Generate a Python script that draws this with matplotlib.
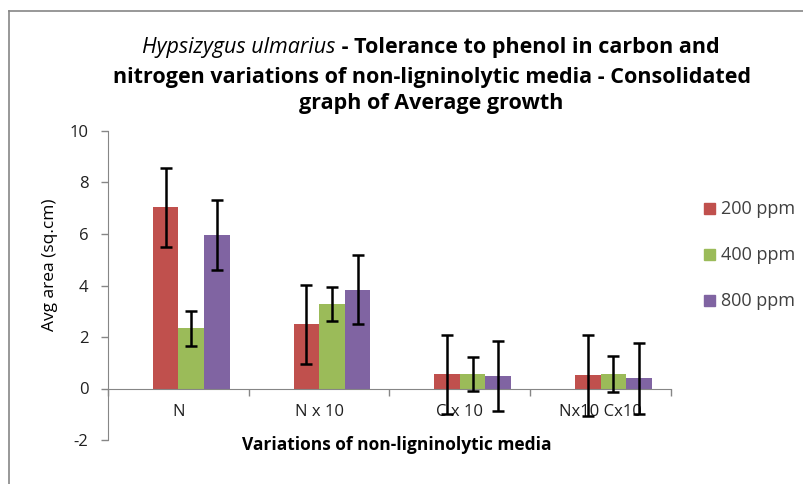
import numpy as np
import matplotlib
matplotlib.use("Agg")
import matplotlib.pyplot as plt
from matplotlib.lines import Line2D

plt.rcParams['font.family'] = ['Open Sans', 'DejaVu Sans']
plt.rcParams['axes.unicode_minus'] = False

# data
categories = ['N', 'N x 10', 'C x 10', 'Nx10 Cx10']
series_names = ['200 ppm', '400 ppm', '800 ppm']
vals_200 = [7.03, 2.49, 0.55, 0.51]
vals_400 = [2.34, 3.29, 0.58, 0.55]
vals_800 = [5.97, 3.84, 0.48, 0.39]
err_200 = [1.52, 1.54, 1.54, 1.56]
err_400 = [0.68, 0.67, 0.66, 0.70]
err_800 = [1.36, 1.33, 1.36, 1.37]
colors = ['#C0504D', '#9BBB59', '#8064A2']

W, H = 804, 484
fig = plt.figure(figsize=(W / 100, H / 100), dpi=100)
ax = fig.add_axes([108 / W, 44 / H, (671 - 108) / W, (440 - 131) / H])

x = np.arange(len(categories))
bw = 1 / 5.5  # excel style: 4 slots (first empty) with 150% gap
offsets = [-0.5 * bw, 0.5 * bw, 1.5 * bw]
for vals, errs, col, off, name in zip([vals_200, vals_400, vals_800],
                                      [err_200, err_400, err_800],
                                      colors, offsets, series_names):
    ax.bar(x + off, vals, width=bw, color=col, label=name, zorder=2)
    ax.errorbar(x + off, vals, yerr=errs, fmt='none', ecolor='black',
                elinewidth=1.8, capsize=4, capthick=1.8, zorder=3)

ax.set_xlim(-0.5, len(categories) - 0.5)
ax.set_ylim(-2, 10)
ax.set_yticks(np.arange(-2, 11, 2))
ax.tick_params(axis='y', direction='out', length=5, width=1, color='#868686',
               labelsize=12, pad=9, labelcolor='#202020')
ax.set_xticks(x)
ax.set_xticklabels(categories)
ax.set_xticks(np.arange(-0.5, len(categories), 1), minor=True)
ax.tick_params(axis='x', which='major', length=0, labelsize=12, pad=11,
               labelcolor='#202020')
ax.tick_params(axis='x', which='minor', direction='out', length=5, width=1,
               color='#868686')
for s in ['top', 'right']:
    ax.spines[s].set_visible(False)
ax.spines['bottom'].set_position(('data', 0))
ax.spines['bottom'].set_color('#868686')
ax.spines['left'].set_color('#868686')

fig.text(50 / W, 1 - 265 / H, 'Avg area (sq.cm)', rotation=90, ha='center',
         va='center', fontsize=12.5)
fig.text(397 / W, 1 - 445 / H, 'Variations of non-ligninolytic media',
         ha='center', va='center', fontsize=12.5, fontweight='bold')

# title, first line mixes italic and bold
tsize = 15.5
fig.canvas.draw()
r = fig.canvas.get_renderer()
t1a = fig.text(0, 1 - 48 / H, 'Hypsizygus ulmarius', fontsize=tsize,
               fontstyle='italic', va='center')
t1b = fig.text(0, 1 - 48 / H, ' - Tolerance to phenol in carbon and',
               fontsize=tsize, fontweight='bold', va='center')
wa = t1a.get_window_extent(r).width
wb = t1b.get_window_extent(r).width
start = 431 - (wa + wb) / 2
t1a.set_x(start / W)
t1b.set_x((start + wa) / W)
fig.text(432 / W, 1 - 77 / H,
         'nitrogen variations of non-ligninolytic media - Consolidated',
         fontsize=tsize, fontweight='bold', ha='center', va='center')
fig.text(431 / W, 1 - 104 / H, 'graph of Average growth', fontsize=tsize,
         fontweight='bold', ha='center', va='center')

# legend
ys = [209, 255, 301]
for name, col, yy in zip(series_names, colors, ys):
    fig.patches.append(plt.Rectangle((704 / W, 1 - (yy + 5) / H), 11 / W,
                                     11 / H, color=col, transform=fig.transFigure))
    fig.text(721 / W, 1 - yy / H, name, fontsize=13, va='center',
             color='#404040')

# chart frame
fig.add_artist(Line2D([9 / W, 9 / W], [0, 1 - 11 / H], color='#868686',
                      lw=1.2, transform=fig.transFigure))
fig.add_artist(Line2D([9 / W, 1], [1 - 11 / H, 1 - 11 / H], color='#868686',
                      lw=1.2, transform=fig.transFigure))

fig.savefig('out.png', dpi=100)
